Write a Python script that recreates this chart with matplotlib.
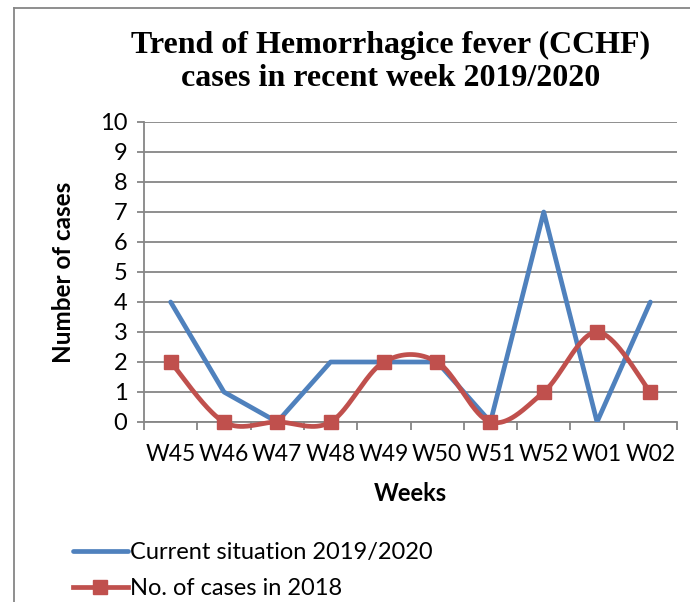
import matplotlib.pyplot as plt
import numpy as np
from matplotlib.lines import Line2D

weeks = ["W45", "W46", "W47", "W48", "W49", "W50", "W51", "W52", "W01", "W02"]
current_cases = [4, 1, 0, 2, 2, 2, 0, 7, 0, 4]
cases_2018 = [2, 0, 0, 0, 2, 2, 0, 1, 3, 1]

BLUE = "#4F81BD"
RED = "#C0504D"
GRID = "#868686"
SANS = ["Lato", "DejaVu Sans"]
SERIF = ["Liberation Serif", "DejaVu Serif"]


def smooth_curve(x, y, n=40):
    # Catmull-Rom style bezier, like Excel's "smoothed line"
    x = np.asarray(x, float)
    y = np.asarray(y, float)
    px = np.concatenate([[x[0]], x, [x[-1]]])
    py = np.concatenate([[y[0]], y, [y[-1]]])
    t = np.linspace(0, 1, n)[:, None]
    xs, ys = [], []
    for i in range(1, len(px) - 2):
        p0 = np.array([px[i], py[i]])
        p3 = np.array([px[i + 1], py[i + 1]])
        p1 = p0 + (p3 - np.array([px[i - 1], py[i - 1]])) / 6.0
        p2 = p3 - (np.array([px[i + 2], py[i + 2]]) - p0) / 6.0
        pts = ((1 - t) ** 3) * p0 + 3 * ((1 - t) ** 2) * t * p1 + 3 * (1 - t) * t ** 2 * p2 + t ** 3 * p3
        xs.append(pts[:, 0])
        ys.append(pts[:, 1])
    return np.concatenate(xs), np.concatenate(ys)


fig = plt.figure(figsize=(6.9, 6.02), dpi=100)
ax = fig.add_axes([144 / 690, 1 - 422 / 602, 533 / 690, 300 / 602])

xpos = np.arange(len(weeks))
ax.plot(xpos, current_cases, color=BLUE, linewidth=3.4, solid_capstyle="round",
        label="Current situation 2019/2020", zorder=3)
sx, sy = smooth_curve(xpos, cases_2018)
ax.plot(sx, sy, color=RED, linewidth=3.4, zorder=4, clip_on=False)
ax.plot(xpos, cases_2018, linestyle="none", marker="s", markersize=10.5,
        color=RED, zorder=5, clip_on=False)
red_handle = Line2D([], [], color=RED, linewidth=3.4, marker="s", markersize=10.5)

ax.set_xlim(-0.5, len(weeks) - 0.5)
ax.set_ylim(0, 10)
ax.set_yticks(range(0, 11))
ax.yaxis.grid(True, color=GRID, linewidth=1.3)
ax.set_axisbelow(True)

ax.set_xticks(xpos)
ax.set_xticklabels(weeks)
ax.set_xticks(np.arange(-0.5, len(weeks)), minor=True)
ax.tick_params(axis="x", which="major", length=0, pad=16, labelsize=16.5)
ax.tick_params(axis="x", which="minor", length=6, width=1.3, color=GRID, direction="out")
ax.tick_params(axis="y", length=5, width=1.3, color=GRID, labelsize=17, pad=7)
for lbl in ax.get_xticklabels() + ax.get_yticklabels():
    lbl.set_family(SANS)

for s in ["top", "right"]:
    ax.spines[s].set_visible(False)
for s in ["left", "bottom"]:
    ax.spines[s].set_color(GRID)
    ax.spines[s].set_linewidth(1.3)

ax.set_xlabel("Weeks", fontsize=17, fontweight="bold", family=SANS, labelpad=12)
ax.set_ylabel("Number of cases", fontsize=17.5, fontweight="bold", family=SANS, labelpad=18)

fig.text(391 / 690, 1 - 62 / 602, "Trend of Hemorrhagice fever (CCHF)\ncases in recent week 2019/2020",
         ha="center", va="center", fontsize=23, fontweight="bold", family=SERIF, linespacing=1.2)

leg = fig.legend(handles=[ax.lines[0], red_handle],
                 labels=["Current situation 2019/2020", "No. of cases in 2018"],
                 loc="upper left", bbox_to_anchor=(52 / 690, 1 - 521 / 602),
                 frameon=False, prop={"family": SANS, "size": 17},
                 handlelength=2.3, handletextpad=0.1, labelspacing=0.62)

# chart border (only left and top edges visible in the crop)
bx, by = 14 / 690, 1 - 8 / 602
fig.add_artist(Line2D([bx, bx], [0, by], transform=fig.transFigure, color=GRID, linewidth=1.3))
fig.add_artist(Line2D([bx, 1], [by, by], transform=fig.transFigure, color=GRID, linewidth=1.3))

fig.savefig("out.png", dpi=100)
